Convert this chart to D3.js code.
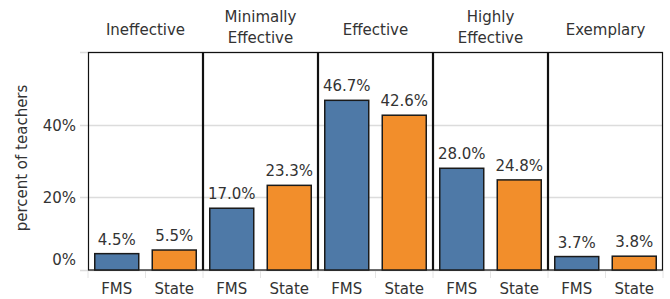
<!DOCTYPE html>
<html>
<head>
<meta charset="utf-8">
<script src="https://cdn.jsdelivr.net/npm/d3@7"></script>
<style>
  body { margin: 0; background: #fff; }
  text { font-family: "DejaVu Sans", sans-serif; fill: #333; }
</style>
</head>
<body>
<div id="chart"></div>
<script>
// ratings and the two groups compared in each one
var ratings = ["Ineffective", "Minimally Effective", "Effective", "Highly Effective", "Exemplary"];
var ratingLines = [["Ineffective"], ["Minimally", "Effective"], ["Effective"], ["Highly", "Effective"], ["Exemplary"]];
var groups = ["FMS", "State"];
var fmsValues = [4.5, 17.0, 46.7, 28.0, 3.7];
var stateValues = [5.5, 23.3, 42.6, 24.8, 3.8];
var yTicks = [0, 20, 40, 60];
var groupColors = ["#4e79a7", "#f28e2b"];

var chart = {
    width: 670,
    height: 299,
    margin: { top: 52, right: 7, bottom: 29, left: 88 },
    svg: 0,
    initialize: function() {
        var self = this;
        self.svg = d3.select("#chart").append("svg")
            .attr("width", self.width)
            .attr("height", self.height);
        self.draw();
    },

    draw: function() {
        var self = this;
        var m = self.margin;
        var innerW = self.width - m.left - m.right;
        var innerH = self.height - m.top - m.bottom;

        var rows = [];
        ratings.forEach(function(r, i) {
            rows.push({ rating: r, group: "FMS", value: fmsValues[i] });
            rows.push({ rating: r, group: "State", value: stateValues[i] });
        });

        var x0 = d3.scaleBand().domain(ratings).range([m.left, m.left + innerW]);
        var x1 = d3.scaleBand().domain(groups).range([0, x0.bandwidth()])
            .paddingInner(0.235).paddingOuter(0.1175);
        var xStep = d3.scaleBand().domain(groups).range([0, x0.bandwidth()]);
        var color = d3.scaleOrdinal().domain(groups).range(groupColors);
        var y = d3.scaleLinear().domain([0, 60]).range([m.top + innerH, m.top]);

        // gridlines
        self.svg.append("g")
            .selectAll("line")
            .data(yTicks)
            .enter()
            .append("line")
            .attr("x1", m.left - 8)
            .attr("x2", m.left + innerW)
            .attr("y1", function(d) { return Math.round(y(d)) + 0.5; })
            .attr("y2", function(d) { return Math.round(y(d)) + 0.5; })
            .attr("stroke", "#dcdcdc")
            .attr("stroke-width", 1.5);

        // y tick labels
        self.svg.append("g")
            .selectAll("text")
            .data(yTicks.slice(0, 3))
            .enter()
            .append("text")
            .attr("x", m.left - 12)
            .attr("y", function(d) { return y(d) + (d === 0 ? -5 : 6); })
            .attr("text-anchor", "end")
            .style("font-size", "15px")
            .text(function(d) { return d + "%"; });

        // y title
        self.svg.append("text")
            .attr("transform", "translate(27," + (m.top + innerH / 2 - 3) + ") rotate(-90)")
            .attr("text-anchor", "middle")
            .style("font-size", "15px")
            .text("percent of teachers");

        // small ticks under the axis
        var tickXs = [];
        ratings.forEach(function(r) {
            tickXs.push(x0(r));
            tickXs.push(x0(r) + xStep("State"));
        });
        tickXs.push(m.left + innerW);
        self.svg.append("g")
            .selectAll("line")
            .data(tickXs)
            .enter()
            .append("line")
            .attr("x1", function(d) { return d; })
            .attr("x2", function(d) { return d; })
            .attr("y1", m.top + innerH)
            .attr("y2", m.top + innerH + 8)
            .attr("stroke", "#e4e4e4")
            .attr("stroke-width", 1);

        // panels
        var panel = self.svg.append("g")
            .selectAll("g")
            .data(ratings)
            .enter()
            .append("g")
            .attr("transform", function(d) { return "translate(" + x0(d) + ",0)"; });

        panel.append("rect")
            .attr("x", 0.5)
            .attr("y", m.top + 0.5)
            .attr("width", x0.bandwidth() - 1)
            .attr("height", innerH - 0.5)
            .attr("fill", "none")
            .attr("stroke", "#111")
            .attr("stroke-width", 1.2);

        // header labels
        panel.append("text")
            .attr("x", x0.bandwidth() / 2)
            .attr("text-anchor", "middle")
            .style("font-size", "15px")
            .each(function(d, i) {
                var lines = ratingLines[i];
                var t = d3.select(this);
                lines.forEach(function(l, j) {
                    t.append("tspan")
                        .attr("x", x0.bandwidth() / 2)
                        .attr("y", lines.length === 1 ? 34.5 : 22 + j * 21)
                        .text(l);
                });
            });

        // bars
        self.svg.append("g")
            .selectAll("rect")
            .data(rows)
            .enter()
            .append("rect")
            .attr("x", function(d) { return x0(d.rating) + x1(d.group); })
            .attr("y", function(d) { return y(d.value); })
            .attr("width", x1.bandwidth())
            .attr("height", function(d) { return y(0) - y(d.value); })
            .attr("fill", function(d) { return color(d.group); })
            .attr("stroke", "#1a1a1a")
            .attr("stroke-width", 1.5);

        // value labels
        self.svg.append("g")
            .selectAll("text")
            .data(rows)
            .enter()
            .append("text")
            .attr("x", function(d) { return x0(d.rating) + x1(d.group) + x1.bandwidth() / 2; })
            .attr("y", function(d) { return y(d.value) - 9; })
            .attr("text-anchor", "middle")
            .style("font-size", "15px")
            .text(function(d) { return d.value.toFixed(1) + "%"; });

        // group labels along the bottom
        self.svg.append("g")
            .selectAll("text")
            .data(rows)
            .enter()
            .append("text")
            .attr("x", function(d) { return x0(d.rating) + x1(d.group) + x1.bandwidth() / 2; })
            .attr("y", m.top + innerH + 24)
            .attr("text-anchor", "middle")
            .style("font-size", "15px")
            .text(function(d) { return d.group; });
    }
};

chart.initialize();
</script>
</body>
</html>
